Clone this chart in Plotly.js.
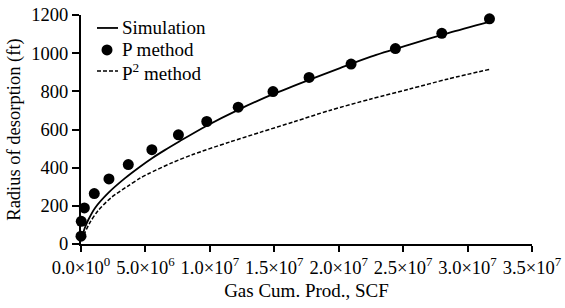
<!DOCTYPE html>
<html>
<head>
<meta charset="utf-8">
<script src="https://cdn.plot.ly/plotly-3.0.1.min.js"></script>
<style>html,body{margin:0;padding:0;background:#fff;}#chart{width:565px;height:308px;}</style>
</head>
<body>
<div id="chart"></div>
<script>
// Gas cumulative production (SCF) and radius of desorption (ft)
var simX = [0.05e6, 0.3e6, 0.57e6, 1.09e6, 2.12e6, 3.42e6, 4.58e6, 5.57e6, 6.5e6, 7.69e6, 9.76e6, 12.2e6, 14.9e6, 17.7e6, 20.1e6, 22.5e6, 25.5e6, 28.5e6, 31.75e6];
var simY = [30, 85, 127, 189, 268, 345, 405, 452, 492, 540, 620, 703, 785, 860, 922, 982, 1045, 1105, 1165];

var pX = [0.0, 0.02e6, 0.26e6, 1.03e6, 2.17e6, 3.67e6, 5.5e6, 7.56e6, 9.76e6, 12.2e6, 14.9e6, 17.7e6, 20.96e6, 24.4e6, 28.0e6, 31.7e6];
var pY = [41, 119, 189, 264, 341, 416, 494, 572, 642, 717, 799, 873, 943, 1024, 1104, 1180];

var p2X = [0.05e6, 0.18e6, 0.7e6, 1.34e6, 2.38e6, 3.67e6, 4.58e6, 5.23e6, 7.04e6, 8.72e6, 11.57e6, 13.9e6, 16.5e6, 19.3e6, 22.5e6, 25.5e6, 28.5e6, 31.75e6];
var p2Y = [18, 41, 113, 176, 245, 305, 345, 368, 425, 470, 535, 585, 640, 700, 760, 812, 865, 916];

var xTickVals = [0, 5e6, 1e7, 1.5e7, 2e7, 2.5e7, 3e7, 3.5e7];
var xTickText = ['0.0×10<sup>0</sup>', '5.0×10<sup>6</sup>', '1.0×10<sup>7</sup>', '1.5×10<sup>7</sup>', '2.0×10<sup>7</sup>', '2.5×10<sup>7</sup>', '3.0×10<sup>7</sup>', '3.5×10<sup>7</sup>'];
var yTickVals = [0, 200, 400, 600, 800, 1000, 1200];
var legendNames = ['Simulation', 'P method', 'P<sup>2</sup> method'];

var font = 'Liberation Serif';
var tickFs = 18.5;
var titleFs = 19;
var legFs = 19;

var traces = [
  {x: simX, y: simY, mode: 'lines', name: legendNames[0], line: {color: '#000', width: 1.8, shape: 'spline', smoothing: 0.8}, cliponaxis: false, showlegend: false},
  {x: pX, y: pY, mode: 'markers', name: legendNames[1], marker: {color: '#000', size: 11}, cliponaxis: false, showlegend: false},
  {x: p2X, y: p2Y, mode: 'lines', name: legendNames[2], line: {color: '#000', width: 1.5, dash: '4px,2px', shape: 'spline', smoothing: 0.8}, cliponaxis: false, showlegend: false}
];

// legend drawn in paper coordinates (plot area: 451 x 229.5 px)
function px2x(p) { return (p - 81) / 451; }
function py2y(p) { return (244.5 - p) / 229.5; }

var shapes = [
  {type: 'line', xref: 'paper', yref: 'paper', x0: px2x(97), x1: px2x(118), y0: py2y(28), y1: py2y(28), line: {color: '#000', width: 1.8}},
  {type: 'circle', xref: 'paper', yref: 'paper', xsizemode: 'pixel', ysizemode: 'pixel', xanchor: px2x(107), yanchor: py2y(50), x0: -5.5, x1: 5.5, y0: -5.5, y1: 5.5, fillcolor: '#000', line: {color: '#000', width: 0}},
  {type: 'line', xref: 'paper', yref: 'paper', x0: px2x(97), x1: px2x(118), y0: py2y(71), y1: py2y(71), line: {color: '#000', width: 1.5, dash: '4px,2px'}}
];

var annotations = [
  {xref: 'paper', yref: 'paper', x: px2x(120), y: py2y(28), xanchor: 'left', yanchor: 'middle', text: legendNames[0], showarrow: false, font: {family: font, size: legFs, color: '#000'}},
  {xref: 'paper', yref: 'paper', x: px2x(120), y: py2y(50), xanchor: 'left', yanchor: 'middle', text: legendNames[1], showarrow: false, font: {family: font, size: legFs, color: '#000'}},
  {xref: 'paper', yref: 'paper', x: px2x(120), y: py2y(72), xanchor: 'left', yanchor: 'middle', text: legendNames[2], showarrow: false, font: {family: font, size: legFs, color: '#000'}}
];

var layout = {
  width: 565, height: 308,
  margin: {l: 81, r: 33, t: 15, b: 64},
  paper_bgcolor: '#fff', plot_bgcolor: '#fff',
  font: {family: font, size: tickFs, color: '#000'},
  showlegend: false,
  shapes: shapes,
  annotations: annotations,
  xaxis: {
    range: [0, 3.5e7], tickmode: 'array', tickvals: xTickVals, ticktext: xTickText,
    showline: true, linecolor: '#000', linewidth: 2, ticks: 'outside', ticklen: 6, tickwidth: 2, tickcolor: '#000',
    showgrid: false, zeroline: false,
    title: {text: 'Gas Cum. Prod., SCF', font: {family: font, size: titleFs}, standoff: 6},
    tickfont: {family: font, size: tickFs}
  },
  yaxis: {
    range: [0, 1200], tickmode: 'array', tickvals: yTickVals,
    showline: true, linecolor: '#000', linewidth: 2, ticks: 'outside', ticklen: 7, tickwidth: 2, tickcolor: '#000',
    showgrid: false, zeroline: false,
    title: {text: 'Radius of desorption (ft)', font: {family: font, size: 18.5}, standoff: 6},
    tickfont: {family: font, size: tickFs}
  }
};

Plotly.newPlot('chart', traces, layout, {displayModeBar: false, staticPlot: true});
</script>
</body>
</html>
